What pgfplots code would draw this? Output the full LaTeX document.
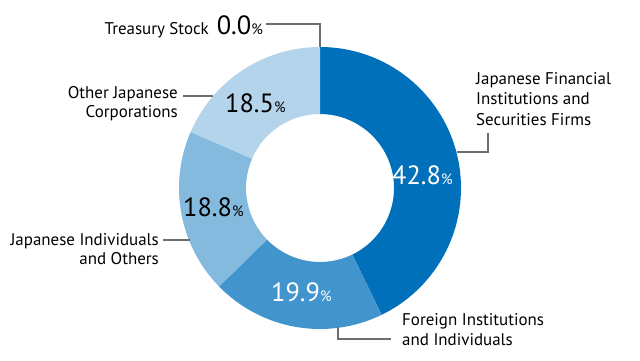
\documentclass[border=0pt]{standalone}
\usepackage{pgfplots}
\pgfplotsset{compat=1.18}
\usepackage{pgfplotstable}
\usetikzlibrary{calc}
\usepackage{fontspec}
\setmainfont{PT Sans}
\definecolor{c1}{RGB}{0,112,186}
\definecolor{c2}{RGB}{66,148,205}
\definecolor{c3}{RGB}{132,186,222}
\definecolor{c4}{RGB}{180,212,235}
\definecolor{lead}{RGB}{110,110,110}
\newcommand{\lab}{\fontsize{17}{20}\selectfont}
\newcommand{\bignum}{\fontsize{26.5}{26}\selectfont}
\newcommand{\pct}{\fontsize{15}{15}\selectfont}
\pgfplotstableread{
share col
42.8 c1
19.9 c2
18.8 c3
18.5 c4
0.0 c4
}\datatable
\begin{document}
\begin{tikzpicture}
\begin{axis}[
  width=640bp, height=360bp, scale only axis,
  xmin=0, xmax=640, ymin=0, ymax=360,
  hide axis, clip=false,
]
\path (axis cs:0,0) rectangle (axis cs:640,360);
\def\cum{0}
\pgfplotsforeachungrouped \i in {0,...,3}{%
  \pgfplotstablegetelem{\i}{share}\of\datatable \let\v\pgfplotsretval
  \pgfplotstablegetelem{\i}{col}\of\datatable \let\c\pgfplotsretval
  \pgfmathsetmacro\a{90-3.6*\cum}%
  \pgfmathsetmacro\b{90-3.6*(\cum+\v)}%
  \pgfmathsetmacro\cum{\cum+\v}%
  \edef\temp{\noexpand\fill[\c] ($(axis cs:320,172)+(\a:141bp)$) arc[start angle=\a, end angle=\b, radius=141bp] -- ($(axis cs:320,172)+(\b:74bp)$) arc[start angle=\b, end angle=\a, radius=74bp] -- cycle;}%
  \temp
}
% leaders
\draw[lead, line width=1.3bp] (axis cs:266,336) -- (axis cs:320,336) -- (axis cs:320,313);
\draw[lead, line width=1.3bp] (axis cs:488,227) -- (axis cs:488,208) -- (axis cs:457,208);
\draw[lead, line width=1.3bp] (axis cs:338,33) -- (axis cs:338,21) -- (axis cs:391,21);
\draw[lead, line width=1.3bp] (axis cs:163,120) -- (axis cs:190,120);
\draw[lead, line width=1.3bp] (axis cs:183,264) -- (axis cs:213,264);
% labels
\node[anchor=base east, inner sep=0] at (axis cs:263,326) {\lab Treasury Stock\hspace{8bp}{\bignum 0.0}{\pct\%}};
\node[anchor=base west, inner sep=0] at (axis cs:476,276) {\lab Japanese Financial};
\node[anchor=base west, inner sep=0] at (axis cs:476,255.5) {\lab Institutions and};
\node[anchor=base west, inner sep=0] at (axis cs:476,235) {\lab Securities Firms};
\node[anchor=base west, inner sep=0] at (axis cs:402,35) {\lab Foreign Institutions};
\node[anchor=base west, inner sep=0] at (axis cs:402,15) {\lab and Individuals};
\node[anchor=base east, inner sep=0] at (axis cs:159,114.5) {\lab Japanese Individuals};
\node[anchor=base east, inner sep=0] at (axis cs:159,96) {\lab and Others};
\node[anchor=base east, inner sep=0] at (axis cs:178,262) {\lab Other Japanese};
\node[anchor=base east, inner sep=0] at (axis cs:178,243) {\lab Corporations};
% percentages
\node[anchor=base west, inner sep=0, white] at (axis cs:392,176) {{\bignum 42.8}{\pct\%}};
\node[anchor=base west, inner sep=0, white] at (axis cs:271,59) {{\bignum 19.9}{\pct\%}};
\node[anchor=base west, inner sep=0] at (axis cs:183,144) {{\bignum 18.8}{\pct\%}};
\node[anchor=base west, inner sep=0] at (axis cs:225,248) {{\bignum 18.5}{\pct\%}};
\end{axis}
\end{tikzpicture}
\end{document}
